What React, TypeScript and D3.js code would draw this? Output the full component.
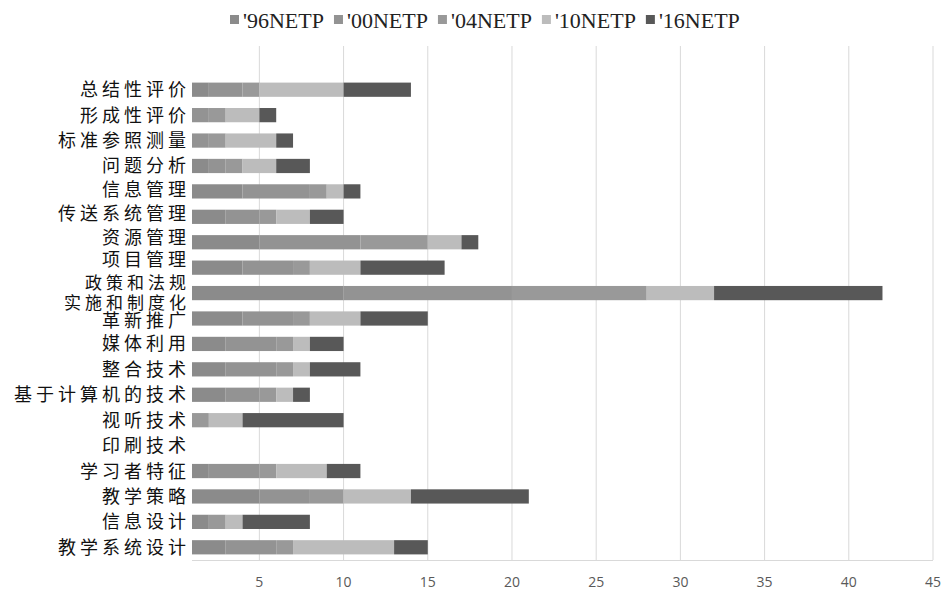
import * as d3 from "d3";
import { useEffect, useRef } from "react";

// categories, top to bottom ("政策和法规/实施和制度化" is one two-line label)
const categories = [
  "总结性评价", "形成性评价", "标准参照测量", "问题分析", "信息管理",
  "传送系统管理", "资源管理", "项目管理", "政策和法规\n实施和制度化", "革新推广",
  "媒体利用", "整合技术", "基于计算机的技术", "视听技术", "印刷技术",
  "学习者特征", "教学策略", "信息设计", "教学系统设计",
];

const seriesNames = ["'96NETP", "'00NETP", "'04NETP", "'10NETP", "'16NETP"];
const seriesColors = ["#8b8b8b", "#939393", "#999999", "#bcbcbc", "#585858"];

// values per series, same order as categories
const netp96 = [2, 1, 1, 2, 4, 3, 5, 4, 10, 4, 3, 3, 3, 1, 0, 2, 5, 2, 3];
const netp00 = [2, 1, 1, 1, 4, 2, 6, 3, 10, 3, 3, 3, 2, 0, 0, 3, 3, 0, 3];
const netp04 = [1, 1, 1, 1, 1, 1, 4, 1, 8, 1, 1, 1, 1, 1, 0, 1, 2, 1, 1];
const netp10 = [5, 2, 3, 2, 1, 2, 2, 3, 4, 3, 1, 1, 1, 2, 0, 3, 4, 1, 6];
const netp16 = [4, 1, 1, 2, 1, 2, 1, 5, 10, 4, 2, 3, 1, 6, 0, 2, 7, 4, 2];

const xTicks = [5, 10, 15, 20, 25, 30, 35, 40, 45];

const App = () => {
  const ref = useRef<SVGSVGElement | null>(null);
  const width = 946;
  const height = 593;
  const margin = { top: 77, right: 13, bottom: 33, left: 192 };

  useEffect(() => {
    const svg = d3.select(ref.current);
    svg.selectAll("*").remove();

    const rows = categories.map((c, i) => ({
      cat: c,
      v: [netp96[i], netp00[i], netp04[i], netp10[i], netp16[i]],
    }));
    const stack = d3.stack<any>().keys([0, 1, 2, 3, 4] as any).value((d: any, k: any) => d.v[k]);
    const layers = stack(rows);

    const x = d3.scaleLinear().domain([1, 45]).range([margin.left, width - margin.right]);
    const y = d3
      .scaleBand()
      .domain(categories)
      .range([margin.top, height - margin.bottom])
      .paddingInner(0.44)
      .paddingOuter(0.22);

    // gridlines
    svg.append("g")
      .selectAll("line")
      .data(xTicks)
      .join("line")
      .attr("x1", (d) => x(d))
      .attr("x2", (d) => x(d))
      .attr("y1", 46)
      .attr("y2", height - margin.bottom)
      .attr("stroke", "#d9d9d9")
      .attr("stroke-width", 1);

    // bars
    layers.forEach((layer, k) => {
      svg.append("g")
        .attr("fill", seriesColors[k])
        .selectAll("rect")
        .data(layer.filter((d) => d[1] > d[0] && d[1] > 1))
        .join("rect")
        .attr("x", (d) => x(Math.max(d[0], 1)))
        .attr("width", (d) => x(d[1]) - x(Math.max(d[0], 1)))
        .attr("y", (d: any) => y(d.data.cat)!)
        .attr("height", y.bandwidth());
    });

    // axis line
    svg.append("line")
      .attr("x1", margin.left)
      .attr("x2", width - margin.right)
      .attr("y1", height - margin.bottom + 0.5)
      .attr("y2", height - margin.bottom + 0.5)
      .attr("stroke", "#d9d9d9");

    // x tick labels
    svg.append("g")
      .selectAll("text")
      .data(xTicks)
      .join("text")
      .attr("x", (d) => x(d))
      .attr("y", height - 6)
      .attr("text-anchor", "middle")
      .attr("font-family", "'Open Sans', 'DejaVu Sans', sans-serif")
      .attr("font-size", 14)
      .attr("fill", "#595959")
      .text((d) => d);

    // category labels (the ones near the two-line label are nudged apart, as in the source)
    const lab = svg.append("g")
      .attr("font-family", "'Noto Sans CJK SC', sans-serif")
      .attr("font-size", 18)
      .attr("letter-spacing", "4px")
      .attr("fill", "#111");
    const twoLine = categories.findIndex((c) => c.includes("\n"));
    categories.forEach((c, i) => {
      const lines = c.split("\n");
      let cy = y(c)! + y.bandwidth() / 2;
      if (i < twoLine && i >= twoLine - 4) cy -= 2 + (i - (twoLine - 4)) * 1.5;
      if (i === twoLine - 1) cy -= 1.5;
      if (i === twoLine + 1) cy += 2;
      const fs = lines.length > 1 ? 17 : 18;
      lines.forEach((ln, j) => {
        lab.append("text")
          .attr("x", margin.left - 2)
          .attr("y", cy + (j - (lines.length - 1) / 2) * 20)
          .attr("dy", "0.36em")
          .attr("font-size", fs)
          .attr("text-anchor", "end")
          .text(ln);
      });
    });

    // legend
    const leg = svg.append("g").attr("transform", "translate(230,20)");
    let lx = 0;
    seriesNames.forEach((name, k) => {
      leg.append("rect")
        .attr("x", lx)
        .attr("y", -5)
        .attr("width", 9)
        .attr("height", 9)
        .attr("fill", seriesColors[k]);
      const t = leg.append("text")
        .attr("x", lx + 13)
        .attr("y", 0)
        .attr("dy", "0.35em")
        .attr("font-family", "'Liberation Serif', serif")
        .attr("font-size", 22)
        .attr("fill", "#222")
        .text(name);
      const w = (t.node() as SVGTextElement).getComputedTextLength();
      lx += 13 + w + 10;
    });
  }, []);

  return (
    <svg
      ref={ref}
      width={width}
      height={height}
      style={{ position: "absolute", left: 0, top: 0, background: "#fff" }}
    ></svg>
  );
};

export default App;
